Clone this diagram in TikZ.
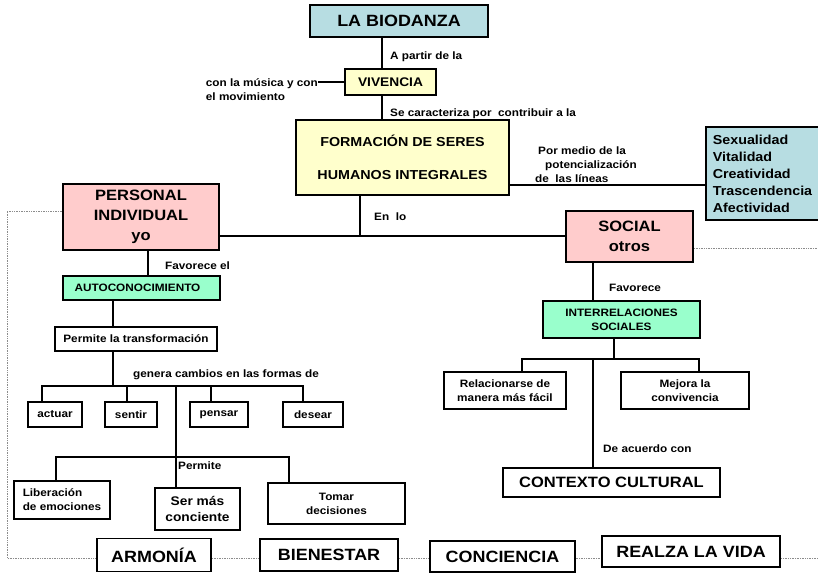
\documentclass[tikz,border=0pt]{standalone}
\usepackage{fontspec}
\setmainfont{Liberation Sans}[FakeStretch=1.1]
\usetikzlibrary{backgrounds}
\definecolor{boxblue}{RGB}{183,221,226}
\definecolor{boxyellow}{RGB}{255,255,204}
\definecolor{boxpink}{RGB}{255,204,204}
\definecolor{boxmint}{RGB}{153,255,204}
\tikzset{box/.style={draw, line width=1.8pt, fill=white, inner sep=0pt, align=center},
    wh/.style 2 args={minimum width=#1pt, minimum height=#2pt},
    txtsmall/.style={font=\fontsize{10.7}{14}\selectfont\bfseries},
    txtmid/.style={font=\fontsize{13}{17}\selectfont\bfseries},
    txtbig/.style={font=\fontsize{15}{20}\selectfont\bfseries},
    txttitle/.style={font=\fontsize{16.3}{20}\selectfont\bfseries},
    lbl/.style={txtsmall, anchor=west, inner sep=0pt, align=left},
    link/.style={line width=1.8pt},
    frame/.style={densely dotted, black!45, line width=0.7pt}}

\begin{document}
\begin{tikzpicture}[x=1pt,y=-1pt]
        \useasboundingbox (0,0) rectangle (818,573);
        % upper part
        \node[box, wh={178}{32}, fill=boxblue, txttitle] (bio) at (399,21) {LA BIODANZA};
        \node[box, wh={91}{26}, fill=boxyellow, txtmid, font=\fontsize{12.5}{15}\selectfont\bfseries] (viv) at (390.5,82) {VIVENCIA};
        \node[box, wh={213}{75}, fill=boxyellow, txtmid] (form) at (402.5,157.5) {FORMACIÓN DE SERES\\[16pt]HUMANOS INTEGRALES};
        \node[box, wh={113}{93}, fill=boxblue, txtmid, align=left] (lin) at (762.5,173.5) {Sexualidad\\Vitalidad\\Creatividad\\Trascendencia\\Afectividad};
        \node[lbl, anchor=east] (mus) at (318,89.5) {con la música y con\\el movimiento};
        \node[lbl] (apartir) at (390,57) {A partir de la};
        \node[lbl] (secar) at (390,114) {Se caracteriza por\ \ contribuir a la};
        \node[lbl] (pormedio) at (535,165) {\hspace{3pt}Por medio de la\\\hspace{10pt}potencialización\\de\ \ las líneas};
        \node[lbl] (enlo) at (374,217) {En\ \ lo};
        \node[box, wh={156}{66}, fill=boxpink, txtbig] (pers) at (141,217) {PERSONAL\\INDIVIDUAL\\yo};
        \node[box, wh={127}{51}, fill=boxpink, txtbig] (soc) at (629.5,236.5) {SOCIAL\\otros};

        % left branch
        \node[lbl] (fav1) at (165,266) {Favorece el};
        \node[box, wh={157}{24}, fill=boxmint, txtsmall] (auto) at (141.5,288) {AUTOCONOCIMIENTO\hspace{8pt}};
        \node[box, wh={162}{24}, txtsmall] (perm) at (136,339) {Permite la transformación};
        \node[lbl] (genera) at (133,375) {genera cambios en las formas de};
        \node[box, wh={54}{25}, txtsmall] (actuar) at (55,414.5) {actuar};
        \node[box, wh={52}{25}, txtsmall] (sentir) at (131,414.5) {sentir};
        \node[box, wh={58}{25}, txtsmall] (pensar) at (219,414.5) {pensar};
        \node[box, wh={60}{25}, txtsmall] (desear) at (313,414.5) {desear};
        \node[lbl] (permite) at (178,466) {Permite};
        \node[box, wh={96}{38}, txtsmall, align=left] (lib) at (62,500) {Liberación\\de emociones};
        \node[box, wh={85}{42}, txtmid, font=\fontsize{12.5}{16}\selectfont\bfseries] (ser) at (197.5,509) {Ser más\\conciente};
        \node[box, wh={137}{41}, txtsmall] (tomar) at (336.5,503.5) {Tomar\\decisiones};

        % right branch
        \node[lbl] (fav2) at (609,288) {Favorece};
        \node[box, wh={157}{37}, fill=boxmint, txtsmall] (inter) at (621.5,319.5) {INTERRELACIONES\\SOCIALES};
        \node[box, wh={122}{37}, txtsmall] (rel) at (505,390.5) {Relacionarse de\\manera más fácil};
        \node[box, wh={128}{37}, txtsmall] (mej) at (685,390.5) {Mejora la\\convivencia};
        \node[lbl] (deac) at (603,449) {De acuerdo con};
        \node[box, wh={217}{29}, txtbig] (ctx) at (611.5,482.5) {CONTEXTO CULTURAL};

        % bottom row
        \node[box, wh={114}{33}, txttitle] (arm) at (154,555) {ARMONÍA};
        \node[box, wh={138}{32}, txttitle] (bien) at (329,555) {BIENESTAR};
        \node[box, wh={145}{31}, txttitle] (conc) at (502.5,556.5) {CONCIENCIA};
        \node[box, wh={178}{31}, txttitle] (realza) at (691,551.5) {REALZA LA VIDA};

        % branch points
        \coordinate (s1) at (382,0);
        \coordinate (s2) at (360,236);
        \coordinate (s3) at (148,0);
        \coordinate (s4) at (113,386);
        \coordinate (fA) at (42,386);
        \coordinate (fB) at (127,386);
        \coordinate (fC) at (211,386);
        \coordinate (fD) at (303,386);
        \coordinate (pA) at (56,457);
        \coordinate (pC) at (176,457);
        \coordinate (pD) at (289,457);
        \coordinate (s5) at (593,0);
        \coordinate (iA) at (522,359);
        \coordinate (iB) at (699,359);
        \coordinate (iC) at (614,359);
        \coordinate (iM) at (593,359);
        \coordinate (fr) at (7,558);
        \coordinate (fe) at (818,558);

        \draw[link] (s1 |- bio.south) -- (s1 |- viv.north);
        \draw[link] (s1 |- viv.south) -- (s1 |- form.north);
        \draw[link] (viv.west) -- (viv.west -| mus.east);
        \draw[link] ([yshift=-27.5pt]form.east) -- ([yshift=-27.5pt]form.east -| lin.west);
        \draw[link] (s2 |- form.south) -- (s2);
        \draw[link] (pers.east |- s2) -- (soc.west |- s2);
        \draw[link] (s3 |- pers.south) -- (s3 |- auto.north);
        \draw[link] (s4 |- auto.south) -- (s4 |- perm.north);
        \draw[link] (s4 |- perm.south) -- (s4);
        \draw[link] (fA |- actuar.north) -- (fA) -- (fD) -- (fD |- desear.north);
        \draw[link] (fB) -- (fB |- sentir.north);
        \draw[link] (fC) -- (fC |- pensar.north);
        \draw[link] (pC |- fA) -- (pC |- ser.north);
        \draw[link] (pA |- lib.north) -- (pA) -- (pD) -- (pD |- tomar.north);
        \draw[link] (s5 |- soc.south) -- (s5 |- inter.north);
        \draw[link] (iC |- inter.south) -- (iC);
        \draw[link] (iA |- rel.north) -- (iA) -- (iB) -- (iB |- mej.north);
        \draw[link] (iM) -- (iM |- ctx.north);

        \begin{scope}[on background layer]
        \draw[frame] ([yshift=6pt]pers.west) -| (fr) -- (fe);
        \draw[frame] ([yshift=-12pt]soc.east) -- ([yshift=-12pt]soc.east -| fe);
        \end{scope}
    \end{tikzpicture}
\end{document}
